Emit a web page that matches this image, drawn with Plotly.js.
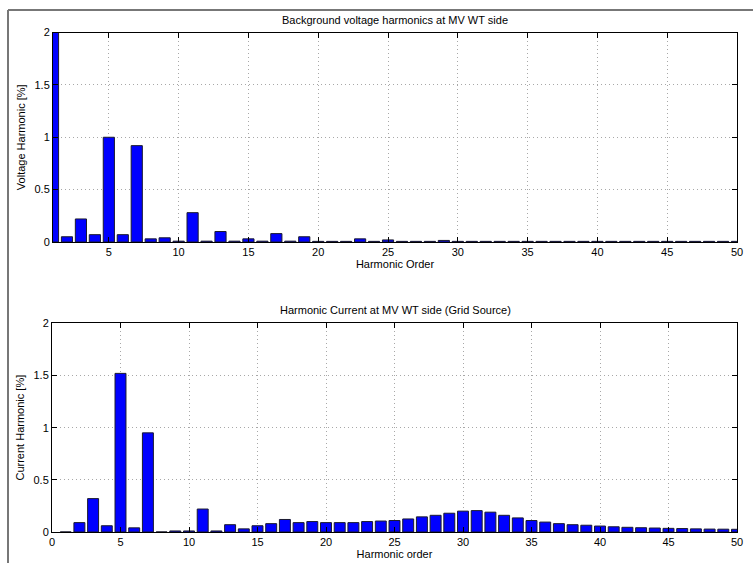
<!DOCTYPE html>
<html>
<head>
<meta charset="utf-8">
<script src="https://cdn.plot.ly/plotly-3.0.1.min.js"></script>
<style>html,body{margin:0;padding:0;background:#fff;}#chart{width:753px;height:563px;}</style>
</head>
<body>
<div id="chart"></div>
<script>
// Harmonic orders (categories)
const harmonicOrders = [1,2,3,4,5,6,7,8,9,10,11,12,13,14,15,16,17,18,19,20,21,22,23,24,25,26,27,28,29,30,31,32,33,34,35,36,37,38,39,40,41,42,43,44,45,46,47,48,49,50];

// Background voltage harmonics at MV WT side [%]
const voltageHarmonic = [2, 0.05, 0.22, 0.07, 1.0, 0.07, 0.92, 0.03, 0.04, 0.008,
  0.28, 0.008, 0.1, 0.008, 0.03, 0.008, 0.08, 0.008, 0.05, 0.006,
  0.006, 0.006, 0.03, 0.006, 0.02, 0.006, 0.006, 0.006, 0.015, 0.006,
  0.006, 0.006, 0.006, 0.006, 0.006, 0.006, 0.006, 0.006, 0.006, 0.006,
  0.006, 0.006, 0.006, 0.006, 0.006, 0.006, 0.006, 0.006, 0.006, 0.006];

// Harmonic current at MV WT side (Grid Source) [%]
const currentHarmonic = [0, 0.09, 0.32, 0.06, 1.52, 0.04, 0.95, 0, 0.01, 0.01,
  0.22, 0.01, 0.07, 0.03, 0.06, 0.08, 0.12, 0.09, 0.10, 0.09,
  0.09, 0.09, 0.10, 0.105, 0.11, 0.125, 0.145, 0.16, 0.18, 0.2,
  0.205, 0.19, 0.16, 0.135, 0.11, 0.095, 0.08, 0.07, 0.065, 0.057,
  0.05, 0.045, 0.041, 0.038, 0.035, 0.033, 0.03, 0.028, 0.027, 0.026];

// Tick labels
const topXTicks = [5,10,15,20,25,30,35,40,45,50];
const bottomXTicks = [0,5,10,15,20,25,30,35,40,45,50];
const yTicks = [0, 0.5, 1, 1.5, 2];
const yTickText = ['0', '0.5', '1', '1.5', '2'];

const W = 753, H = 563;
const px = v => v / W;
const py = v => 1 - v / H;

const FONT = {family: 'Liberation Sans, Arial, Helvetica, sans-serif', size: 11, color: '#000'};

const barStyle = {color: '#0000FF', line: {color: '#1a1a2e', width: 1}};

const traces = [
  {type: 'bar', x: harmonicOrders, y: voltageHarmonic, width: 0.8, marker: barStyle,
   xaxis: 'x', yaxis: 'y', hoverinfo: 'x+y'},
  {type: 'bar', x: harmonicOrders, y: currentHarmonic, width: 0.8, marker: barStyle,
   xaxis: 'x2', yaxis: 'y2', hoverinfo: 'x+y'}
];

function axisCommon() {
  return {
    showline: true, linecolor: '#000', linewidth: 1, mirror: 'ticks',
    ticks: 'inside', ticklen: 5, tickcolor: '#000', tickwidth: 1,
    showgrid: true, gridcolor: '#a8a8a8', griddash: '1px,3px', gridwidth: 1,
    zeroline: false, tickfont: FONT, fixedrange: true
  };
}

const layout = {
  width: W, height: H,
  margin: {l: 0, r: 0, t: 0, b: 0},
  paper_bgcolor: '#fff', plot_bgcolor: '#fff',
  showlegend: false,
  font: FONT,
  bargap: 0,
  xaxis: Object.assign(axisCommon(), {
    domain: [px(53), px(737)], anchor: 'y', range: [1, 50],
    tickmode: 'array', tickvals: topXTicks, ticktext: topXTicks.map(String),
    title: {text: 'Harmonic Order', font: FONT, standoff: 2}
  }),
  yaxis: Object.assign(axisCommon(), {
    domain: [py(242), py(32.5)], anchor: 'x', range: [0, 2],
    tickmode: 'array', tickvals: yTicks, ticktext: yTickText,
    title: {text: 'Voltage Harmonic [%]', font: FONT, standoff: 6}
  }),
  xaxis2: Object.assign(axisCommon(), {
    domain: [px(52), px(737)], anchor: 'y2', range: [0, 50],
    tickmode: 'array', tickvals: bottomXTicks, ticktext: bottomXTicks.map(String),
    title: {text: 'Harmonic order', font: FONT, standoff: 2}
  }),
  yaxis2: Object.assign(axisCommon(), {
    domain: [py(532), py(323.3)], anchor: 'x2', range: [0, 2],
    tickmode: 'array', tickvals: yTicks, ticktext: yTickText,
    title: {text: 'Current Harmonic [%]', font: FONT, standoff: 6}
  }),
  annotations: [
    {text: 'Background voltage harmonics at MV WT side', xref: 'paper', yref: 'paper',
     x: px(395), y: py(20), xanchor: 'center', yanchor: 'middle', showarrow: false, font: FONT},
    {text: 'Harmonic Current at MV WT side (Grid Source)', xref: 'paper', yref: 'paper',
     x: px(395), y: py(310), xanchor: 'center', yanchor: 'middle', showarrow: false, font: FONT}
  ],
  shapes: [
    {type: 'line', xref: 'paper', yref: 'paper', x0: px(8), x1: 1, y0: py(10), y1: py(10),
     line: {color: '#777', width: 2}},
    {type: 'line', xref: 'paper', yref: 'paper', x0: px(8), x1: px(8), y0: py(10), y1: 0,
     line: {color: '#777', width: 2}}
  ]
};

Plotly.newPlot('chart', traces, layout, {displayModeBar: false, staticPlot: true});
</script>
</body>
</html>
